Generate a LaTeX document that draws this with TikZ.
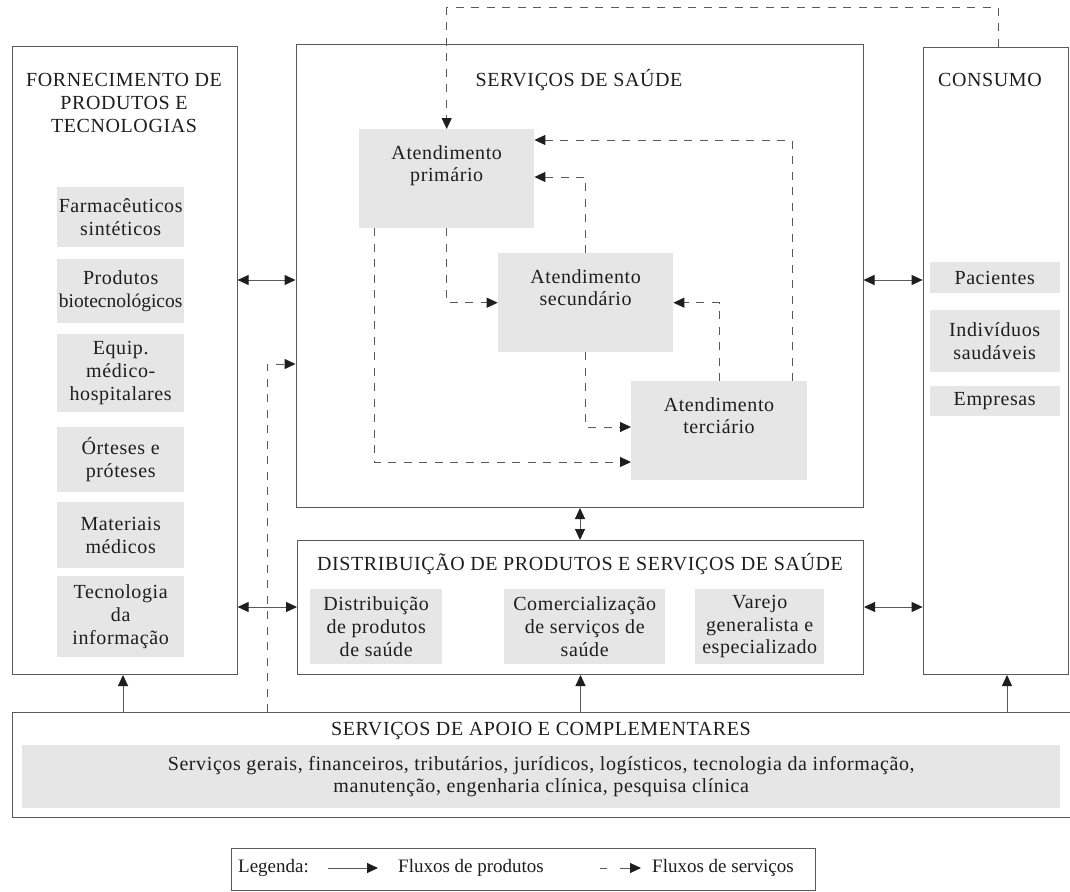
\documentclass[tikz,border=0pt]{standalone}
\usepackage{fontspec}
\setmainfont{Liberation Serif}[LetterSpace=3.0]
\newfontfamily\plainfont{Liberation Serif}
\usetikzlibrary{arrows.meta}
\definecolor{linec}{HTML}{5A5A5A}
\definecolor{grayc}{HTML}{E6E6E7}
\definecolor{textc}{HTML}{1E1E1E}
\begin{document}
\begin{tikzpicture}[x=1pt,y=-1pt,
  every node/.style={font=\fontsize{20}{22.7}\selectfont, text=textc},
  box/.style={draw=linec, line width=1pt, inner sep=0pt, anchor=north west},
  gbox/.style={fill=grayc, inner sep=0pt, anchor=north west, align=center},
  ttl/.style={align=center, inner sep=0pt},
  tip/.style={-{Triangle[length=11pt,width=10pt,color=textc]}},
  btip/.style={{Triangle[length=11pt,width=10pt,color=textc]}-{Triangle[length=11pt,width=10pt,color=textc]}},
  prod/.style={draw=linec, line width=1pt},
  dsh/.style={draw=linec, line width=1pt, dash pattern=on 8pt off 7.5pt},
  legtext/.style={font=\plainfont\fontsize{19}{22.7}\selectfont, anchor=west, inner sep=0pt}
]
\useasboundingbox (0,0) rectangle (1070,891);
\fill[white] (0,0) rectangle (1070,891);

% main boxes
\node[box, minimum width=224.6pt, minimum height=628pt] (forn) at (12,46) {};
\node[box, minimum width=567pt, minimum height=463pt] (serv) at (295.5,44) {};
\node[box, minimum width=145.4pt, minimum height=627pt] (cons) at (922.6,47) {};
\node[box, minimum width=566pt, minimum height=134pt] (dist) at (297,540) {};
\node[box, minimum width=1080pt, minimum height=105pt] (apoio) at (12,712) {};
\node[box, minimum width=584pt, minimum height=42pt] (leg) at (231,848) {};

% titles
\node[ttl] (fornT) at (124,103) {FORNECIMENTO DE\\PRODUTOS E\\TECNOLOGIAS};
\node[ttl] (servT) at (579,80) {SERVIÇOS DE SAÚDE};
\node[ttl] (consT) at (990,80) {CONSUMO};
\node[ttl] (distT) at (580,564) {DISTRIBUIÇÃO DE PRODUTOS E SERVIÇOS DE SAÚDE};
\node[ttl] (apoioT) at (541,731) {SERVIÇOS DE APOIO E COMPLEMENTARES};

% supply items
\node[gbox, minimum width=127pt, minimum height=60pt] (farm) at (57,187) {Farmacêuticos\\sintéticos};
\node[gbox, minimum width=127pt, minimum height=64pt] (biot) at (57,259) {Produtos\\{\plainfont\fontsize{19.5}{22.7}\selectfont biotecnológicos}};
\node[gbox, minimum width=127pt, minimum height=78pt] (equip) at (57,334) {Equip.\\médico-\\hospitalares};
\node[gbox, minimum width=127pt, minimum height=65pt] (ortes) at (57,427) {Órteses e\\próteses};
\node[gbox, minimum width=127pt, minimum height=66pt] (mater) at (57,502) {Materiais\\médicos};
\node[gbox, minimum width=127pt, minimum height=81pt] (tecno) at (57,576) {Tecnologia\\da\\informação};

% consumption items
\node[gbox, minimum width=130pt, minimum height=31pt] (pac) at (929.5,262) {Pacientes};
\node[gbox, minimum width=130pt, minimum height=62pt] (indiv) at (929.5,310) {Indivíduos\\saudáveis};
\node[gbox, minimum width=130pt, minimum height=30pt] (empr) at (929.5,386) {Empresas};

% care levels
\node[gbox, minimum width=175pt, minimum height=99pt] (prim) at (359,129) {};
\node[gbox, minimum width=175.3pt, minimum height=99pt] (sec) at (497.7,253) {};
\node[gbox, minimum width=175.6pt, minimum height=99pt] (ter) at (631,381) {};
\node[ttl, anchor=north, yshift=-16pt] (primT) at (prim.north) {Atendimento\\primário};
\node[ttl, anchor=north, yshift=-16pt] (secT) at (sec.north) {Atendimento\\secundário};
\node[ttl, anchor=north, yshift=-16pt] (terT) at (ter.north) {Atendimento\\terciário};

% distribution items
\node[gbox, minimum width=132pt, minimum height=75pt] (distp) at (310,589) {Distribuição\\de produtos\\de saúde};
\node[gbox, minimum width=161pt, minimum height=75pt] (comer) at (504,589) {Comercialização\\de serviços de\\saúde};
\node[gbox, minimum width=129pt, minimum height=75pt] (varejo) at (695,589) {Varejo\\generalista e\\especializado};

% support items
\node[gbox, minimum width=1038pt, minimum height=63pt] (apoioG) at (22,745) {Serviços gerais, financeiros, tributários, jurídicos, logísticos, tecnologia da informação,\\manutenção, engenharia clínica, pesquisa clínica};

% helper coordinates
\coordinate (yA) at (0,280);
\coordinate (yC) at (0,607);
\coordinate (xE) at (580,0);
\coordinate (xF) at (123,0);
\coordinate (xH) at (1007,0);
\coordinate (xT) at (998,0);
\coordinate (yT) at (0,8);
\coordinate (ctop) at (prim.north |- yT);
\coordinate (x792) at (792,0);
\coordinate (y140) at (0,140);
\coordinate (y177) at (0,177);
\coordinate (y427) at (0,427);
\coordinate (x374) at (374,0);
\coordinate (y462) at (0,462);
\coordinate (x267) at (267,0);
\coordinate (y364) at (0,364);

% product flows (solid)
\draw[prod,btip] (forn.east |- yA) -- (serv.west |- yA);
\draw[prod,btip] (serv.east |- yA) -- (cons.west |- yA);
\draw[prod,btip] (forn.east |- yC) -- (dist.west |- yC);
\draw[prod,btip] (dist.east |- yC) -- (cons.west |- yC);
\draw[prod,btip] (serv.south -| xE) -- (dist.north -| xE);
\draw[prod,tip] (apoio.north -| xF) -- (forn.south -| xF);
\draw[prod,tip] (apoio.north -| dist.south) -- (dist.south);
\draw[prod,tip] (apoio.north -| xH) -- (cons.south -| xH);

% service flows (dashed)
\draw[dsh,tip] (cons.north -| xT) |- (ctop) -- (prim.north);
\draw[dsh,tip] (ter.north -| x792) |- (prim.east |- y140);
\draw[dsh,tip] (sec.north) |- (prim.east |- y177);
\draw[dsh,tip] (prim.south) |- (sec.west);
\draw[dsh,tip] (ter.north) |- (sec.east);
\draw[dsh,tip] (sec.south) |- (ter.west |- y427);
\draw[dsh,tip] (prim.south -| x374) |- (ter.west |- y462);
\draw[dsh,tip] (apoio.north -| x267) |- (serv.west |- y364);

% legend
\node[legtext] (legL) at (238,868) {Legenda:};
\coordinate (pa1) at (328,868);
\coordinate (pa2) at (378,868);
\draw[prod,tip] (pa1) -- (pa2);
\node[legtext] (legP) at (398,868) {Fluxos de produtos};
\coordinate (sa1) at (600,868);
\coordinate (sa2) at (607,868);
\coordinate (sa3) at (620,868);
\coordinate (sa4) at (641,868);
\draw[prod] (sa1) -- (sa2);
\draw[prod,tip] (sa3) -- (sa4);
\node[legtext] (legS) at (652,868) {Fluxos de serviços};
\end{tikzpicture}
\end{document}
